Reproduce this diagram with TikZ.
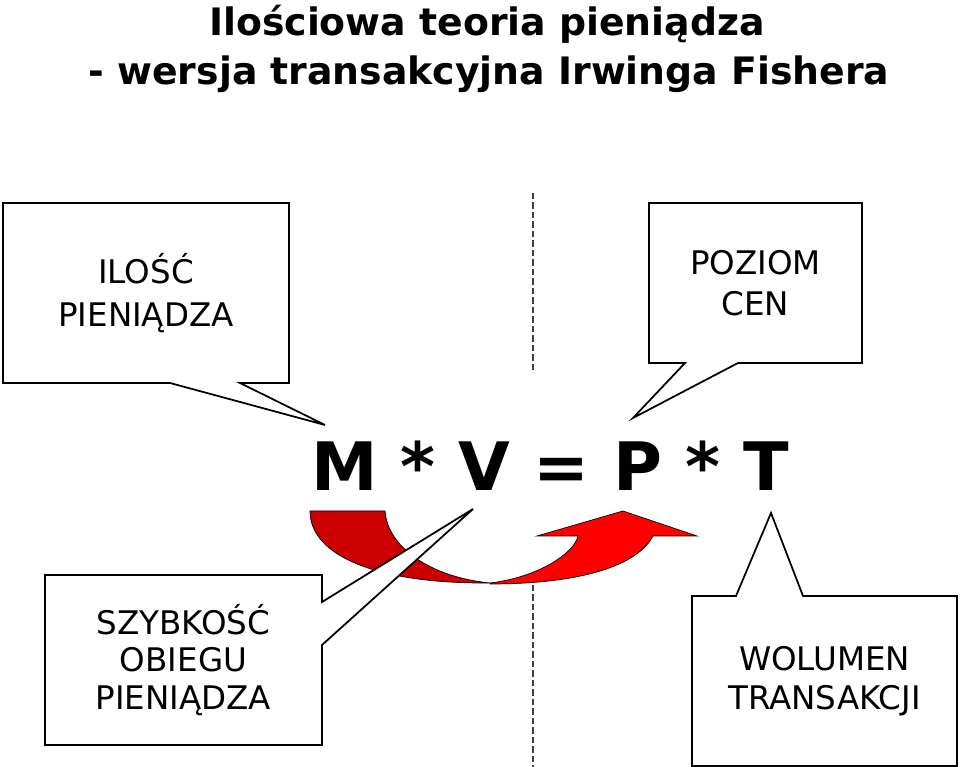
\documentclass[tikz,border=0pt]{standalone}
\usepackage{fontspec}
\setmainfont{DejaVu Sans}
\usepackage{tikz}
\usetikzlibrary{calc}

\begin{document}
\begin{tikzpicture}[
    frame/.style={rectangle, inner sep=0pt, outer sep=0pt},
    bubble/.style={draw=black, fill=white, line width=1pt, line join=miter},
    bubbletext/.style={align=center, font=\fontsize{18.5}{23.5}\selectfont},
    sepline/.style={draw=black!75, line width=1.4pt, dash pattern=on 3.6pt off 1.8pt},
  ]
  \useasboundingbox (0,0) rectangle (19.2,15.34);

  % title
  \node[anchor=base, font=\fontsize{21.5}{26}\selectfont\bfseries] (title) at (9.74,14.62) {Ilościowa teoria pieniądza};
  \node[anchor=base, font=\fontsize{21.5}{26}\selectfont\bfseries] (subtitle) at (9.78,13.64) {- wersja transakcyjna Irwinga Fishera};

  % dashed divider
  \coordinate (divTop) at (10.66,11.48);
  \coordinate (divMid) at (10.66,7.88);
  \coordinate (divLow) at (10.66,3.64);
  \coordinate (divEnd) at (10.66,0);
  \draw[sepline] (divTop) -- (divMid);
  \draw[sepline] (divLow) -- (divEnd);

  % curved arrow under the equation
  \filldraw[fill=red!80!black, draw=black, line width=0.4pt] (6.20,5.12) -- (7.70,5.12)
    .. controls (7.75,4.40) and (8.60,3.80) .. (9.80,3.68)
    .. controls (7.60,3.66) and (6.20,4.20) .. (6.20,5.12) -- cycle;
  \filldraw[fill=red, draw=black, line width=0.4pt] (9.80,3.66)
    .. controls (11.40,3.66) and (12.70,3.95) .. (13.06,4.62)
    -- (13.94,4.62) -- (12.46,5.12) -- (10.74,4.62) -- (11.56,4.62)
    .. controls (11.50,4.30) and (10.80,3.80) .. (9.80,3.68) -- cycle;

  % equation
  \node[anchor=base, font=\fontsize{38}{44}\selectfont\bfseries] (eq) at (11.0,5.52) {M * V = P * T};

  % callout: ILOSC PIENIADZA
  \node[frame, minimum width=5.72cm, minimum height=3.6cm] (ilosc) at (2.92,9.48) {};
  \coordinate (iloscTip) at (6.50,6.84);
  \draw[bubble] (ilosc.north west) -- (ilosc.north east) -- (ilosc.south east)
    -- ($(ilosc.south west)+(4.74,0)$) -- (iloscTip) -- ($(ilosc.south west)+(3.34,0)$)
    -- (ilosc.south west) -- cycle;
  \node[bubbletext, font=\fontsize{18.5}{24}\selectfont] (iloscText) at (ilosc.center) {ILOŚĆ\\PIENIĄDZA};

  % callout: POZIOM CEN
  \node[frame, minimum width=4.26cm, minimum height=3.2cm] (poziom) at (15.11,9.68) {};
  \coordinate (poziomTip) at (12.66,6.98);
  \draw[bubble] (poziom.north west) -- (poziom.north east) -- (poziom.south east)
    -- ($(poziom.south west)+(1.78,0)$) -- (poziomTip) -- ($(poziom.south west)+(0.72,0)$)
    -- (poziom.south west) -- cycle;
  \node[bubbletext] (poziomText) at (poziom.center) {POZIOM\\CEN};

  % callout: SZYBKOSC OBIEGU PIENIADZA
  \node[frame, minimum width=5.54cm, minimum height=3.4cm] (szybkosc) at (3.67,2.14) {};
  \coordinate (szybkoscTip) at (9.46,5.16);
  \draw[bubble] (szybkosc.north west) -- (szybkosc.north east)
    -- ($(szybkosc.north east)+(0,-0.54)$) -- (szybkoscTip) -- ($(szybkosc.north east)+(0,-1.40)$)
    -- (szybkosc.south east) -- (szybkosc.south west) -- cycle;
  \node[bubbletext, font=\fontsize{18.5}{21.5}\selectfont] (szybkoscText) at (szybkosc.center) {SZYBKOŚĆ\\OBIEGU\\PIENIĄDZA};

  % callout: WOLUMEN TRANSAKCJI
  \node[frame, minimum width=5.30cm, minimum height=3.4cm] (wolumen) at (16.49,1.72) {};
  \coordinate (wolumenTip) at (15.42,5.08);
  \draw[bubble] (wolumen.north west) -- ($(wolumen.north west)+(0.88,0)$) -- (wolumenTip)
    -- ($(wolumen.north west)+(2.22,0)$) -- (wolumen.north east) -- (wolumen.south east)
    -- (wolumen.south west) -- cycle;
  \node[bubbletext, font=\fontsize{18.5}{22}\selectfont] (wolumenText) at (wolumen.center) {WOLUMEN\\TRANSAKCJI};
\end{tikzpicture}
\end{document}
